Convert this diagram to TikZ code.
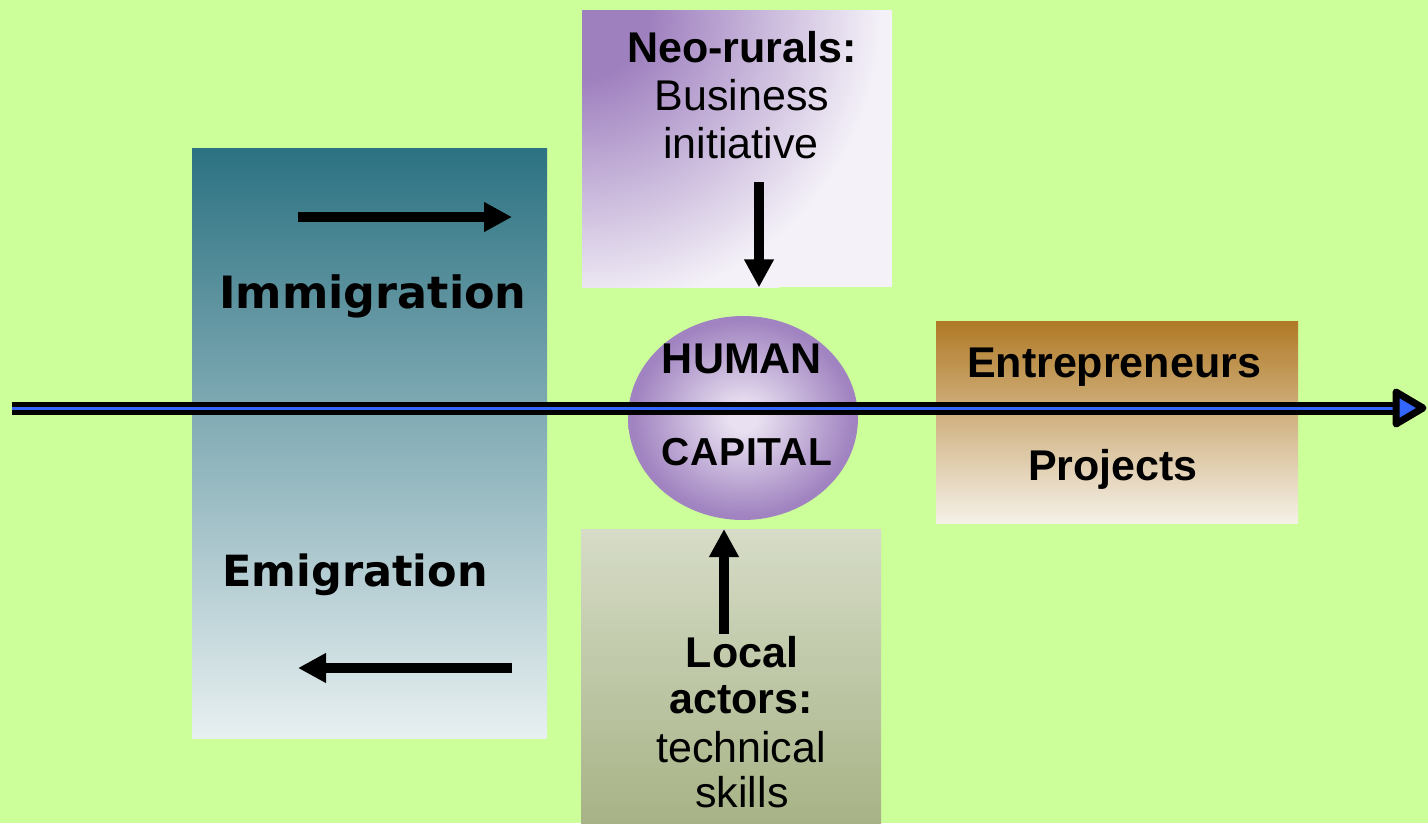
\documentclass[tikz,border=0pt]{standalone}
\usepackage{fontspec}
\setmainfont{Liberation Sans}
\newfontfamily\verdanafont{DejaVu Sans}
\usetikzlibrary{arrows.meta,shapes.geometric}
\definecolor{bg}{HTML}{CCFF99}
\definecolor{hcpurple}{HTML}{A083C0}
\definecolor{hclight}{HTML}{E9E1F1}
\definecolor{nrpurple}{HTML}{9F80BF}
\definecolor{nrlight}{HTML}{F4F1F8}
\definecolor{migtop}{HTML}{2C7282}
\definecolor{migbot}{HTML}{E8F0F1}
\definecolor{entop}{HTML}{B07A26}
\definecolor{enbot}{HTML}{F5F1E8}
\definecolor{lctop}{HTML}{D6DCC7}
\definecolor{lcbot}{HTML}{A7B386}
\definecolor{axisblue}{HTML}{3366FF}
\pgfdeclareradialshading{hcshade}{\pgfpoint{0bp}{0bp}}{color(0bp)=(hclight); color(3bp)=(hclight); color(24bp)=(hcpurple); color(50bp)=(hcpurple)}
\pgfdeclareradialshading{nrshade}{\pgfpoint{0bp}{0bp}}{color(0bp)=(nrpurple); color(5bp)=(nrpurple); color(22bp)=(nrlight); color(50bp)=(nrlight)}
\tikzset{
  panel/.style={rectangle, inner sep=0pt, draw=none, anchor=north west},
  txt/.style={inner sep=0pt, anchor=base, font=\fontsize{43}{48}\selectfont},
  btxt/.style={txt, font=\fontsize{43}{48}\selectfont\bfseries},
  vtxt/.style={inner sep=0pt, anchor=base, font=\fontsize{44.5}{48}\selectfont\verdanafont\bfseries},
  bigarrow/.style={line width=10pt, -{Triangle[length=28pt,width=28pt]}},
}
\begin{document}
\begin{tikzpicture}[x=1pt,y=-1pt]
\fill[bg] (0,0) rectangle (1428,823);
\useasboundingbox (0,0) rectangle (1428,823);
% panels
\node[panel, top color=migtop, bottom color=migbot, minimum width=355pt, minimum height=590pt] (mig) at (192,148) {};
\node[panel, fill=nrlight, minimum width=310pt, minimum height=277pt,
  path picture={\shade[shading=nrshade] (path picture bounding box.north west) circle (340pt);}] (nr) at (582,10) {};
\node[panel, top color=entop, bottom color=enbot, minimum width=362pt, minimum height=202pt] (en) at (936,321) {};
\node[panel, top color=lctop, bottom color=lcbot, minimum width=300pt, minimum height=294pt] (lc) at (581,529) {};
\node[ellipse, shade, shading=hcshade, draw=none, inner sep=0pt, minimum width=230pt, minimum height=204pt] (hc) at (743,418) {};
% main axis arrow
\coordinate (ms) at (12,408);
\coordinate (me) at (1400,408);
\coordinate (mt) at (1423,408);
\draw[line width=13pt, black] (ms) -- (me);
\draw[line width=3pt, axisblue] (ms) -- (me);
\filldraw[fill=axisblue, draw=black, line width=7pt, line join=round] (mt) -- ([shift={(-27,-16)}]mt) -- ([shift={(-27,16)}]mt) -- cycle;
% short arrows
\coordinate (i1) at (298,217);
\coordinate (i2) at (512,217);
\coordinate (e1) at (512,668);
\coordinate (e2) at (298,668);
\coordinate (d1) at (759,182);
\coordinate (u1) at (724,634);
\draw[bigarrow] (i1) -- (i2);
\draw[bigarrow] (e1) -- (e2);
\draw[bigarrow] (d1) -- (d1 |- nr.south);
\draw[bigarrow] (u1) -- (u1 |- lc.north);
% texts
\node[btxt] (t1) at (742,62) {Neo-rurals:};
\node[txt] (t2) at (742,110) {Business};
\node[txt] (t3) at (741,158) {initiative};
\node[vtxt] (t4) at (373,308) {Immigration};
\node[vtxt, font=\fontsize{43}{48}\selectfont\verdanafont\bfseries] (t5) at (355,586) {Emigration};
\node[btxt] (t6) at (742,373) {HUMAN};
\node[btxt, font=\fontsize{39}{44}\selectfont\bfseries\addfontfeature{LetterSpace=2}] (t7) at (747,465) {CAPITAL};
\node[btxt] (t8) at (1114,377) {Entrepreneurs};
\node[btxt] (t9) at (1113,480) {Projects};
\node[btxt] (t10) at (742,667) {Local};
\node[btxt] (t11) at (741,713) {actors:};
\node[txt] (t12) at (741,762) {technical};
\node[txt] (t13) at (742,807) {skills};
\end{tikzpicture}
\end{document}
